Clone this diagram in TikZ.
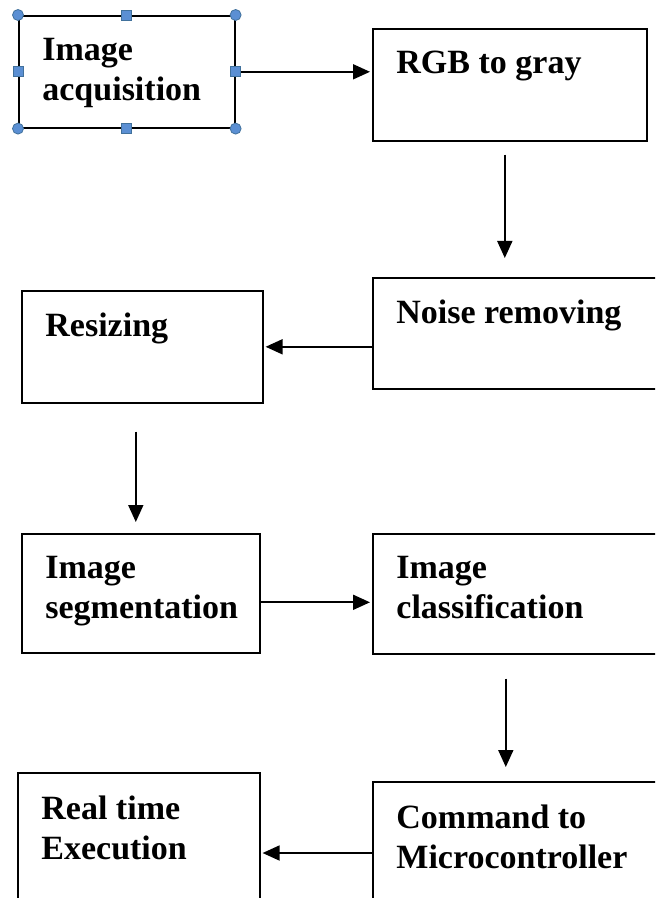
\documentclass[tikz,border=0pt]{standalone}
\usepackage{fontspec}
\setmainfont{Liberation Serif}
\usetikzlibrary{arrows.meta,calc,positioning}
\definecolor{HandleBlue}{HTML}{5B8FD3}
\definecolor{HandleEdge}{HTML}{41719C}
\tikzset{
  stage/.style={draw, line width=0.8pt, anchor=north west, inner sep=0},
  txt/.style={anchor=north west, align=left, inner sep=0, xshift=12pt, yshift=-11.5pt,
    font=\bfseries\fontsize{17}{20}\selectfont},
  flow/.style={line width=0.9pt, arrows={-Triangle[length=8.5pt, width=7.5pt]}},
  hcirc/.style={circle, fill=HandleBlue, draw=HandleEdge, line width=0.4pt, minimum size=5.5pt, inner sep=0},
  hsq/.style={rectangle, fill=HandleBlue, draw=HandleEdge, line width=0.4pt, minimum size=5pt, inner sep=0}
}
\begin{document}
\begin{tikzpicture}[x=0.5pt, y=-0.5pt]
\useasboundingbox (0,0) rectangle (655,898);
\clip (0,0) rectangle (655,898);

% processing stages
\node[stage, minimum width=108pt, minimum height=56pt, label={[txt]north west:Image\\acquisition}] (acq) at (18,15) {};
\node[stage, minimum width=137pt, minimum height=56pt, label={[txt]north west:RGB to gray}] (rgb) at (372,28) {};
\node[stage, minimum width=150pt, minimum height=55.5pt, label={[txt]north west:Noise removing}] (noise) at (372,277) {};
\node[stage, minimum width=120.5pt, minimum height=56pt, label={[txt]north west:Resizing}] (resize) at (21,290) {};
\node[stage, minimum width=119pt, minimum height=59.5pt, label={[txt]north west:Image\\segmentation}] (seg) at (21,533) {};
\node[stage, minimum width=150pt, minimum height=60pt, label={[txt]north west:Image\\classification}] (cls) at (372,533) {};
\node[stage, minimum width=150pt, minimum height=75pt, label={[txt]north west:Command to\\Microcontroller}] (cmd) at (372,781) {};
\node[stage, minimum width=121pt, minimum height=75pt, label={[txt]north west:Real time\\Execution}] (exec) at (17,772) {};

% selection handles
\foreach \a/\n in {north west/hnw, north east/hne, south west/hsw, south east/hse}
  \node[hcirc] (\n) at (acq.\a) {};
\foreach \a/\n in {north/hn, south/hs, east/he, west/hw}
  \node[hsq] (\n) at (acq.\a) {};

% arrows
\coordinate (a5) at ([yshift=-4.5pt]seg.east);
\coordinate (a7) at ([yshift=-40.5pt]exec.north east);
\draw[flow, shorten >=1pt] (he) -- (he -| rgb.west);
\draw[flow, shorten <=6.5pt, shorten >=9.5pt] ([xshift=-2.5pt]rgb.south) -- ([xshift=-2.5pt]rgb.south |- noise.north);
\draw[flow, shorten >=1pt] (resize.east -| noise.west) -- (resize.east);
\draw[flow, shorten <=14pt, shorten >=5.5pt] ([xshift=-3.25pt]resize.south) -- ([xshift=-3.25pt]resize.south |- seg.north);
\draw[flow, shorten >=1pt] (a5) -- (a5 -| cls.west);
\draw[flow, shorten <=12pt, shorten >=7pt] ([xshift=-2pt]cls.south west -| rgb.south) -- ([xshift=-2pt]rgb.south |- cmd.north);
\draw[flow, shorten >=1pt] (a7 -| cmd.west) -- (a7);
\end{tikzpicture}
\end{document}
